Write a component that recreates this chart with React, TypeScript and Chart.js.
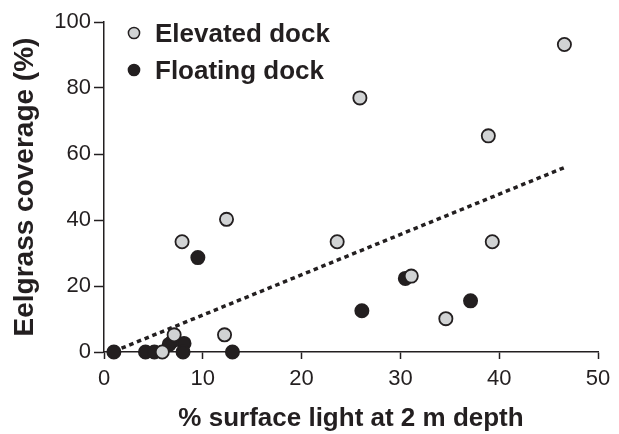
import { useEffect, useRef } from "react";
import { Chart, registerables } from "chart.js";

Chart.register(...registerables);

const INK = "#231f20";
const GRAY = "#d1d3d4";
const FONT = "'Liberation Sans', Arial, Helvetica, sans-serif";

// Elevated dock (grey points)
const elevatedX = [5.9, 7.1, 7.9, 12.2, 12.4, 23.6, 25.9, 31.1, 34.6, 38.9, 39.3, 46.6];
const elevatedY = [0, 5.2, 33.4, 5.2, 40.2, 33.4, 77.0, 23.0, 10.1, 65.5, 33.4, 93.2];

// Floating dock (black points)
const floatingX = [1.0, 4.2, 5.1, 6.6, 7.0, 8.1, 8.0, 9.5, 13.0, 26.1, 30.5, 37.1];
const floatingY = [0, 0, 0, 2.3, 3.5, 2.6, 0, 28.6, 0, 12.5, 22.3, 15.5];

// Regression (dotted) line end points
const trendX = [1.0, 46.6];
const trendY = [0.2, 55.9];

const xTicks = [0, 10, 20, 30, 40, 50];
const yTicks = [0, 20, 40, 60, 80, 100];

const legendLabels = ["Elevated dock", "Floating dock"];
const legendFills = [GRAY, INK];

const xTitle = "% surface light at 2 m depth";
const yTitle = "Eelgrass coverage (%)";

const toPoints = (xs: number[], ys: number[]) => xs.map((x, i) => ({ x, y: ys[i] }));

const legendPlugin = {
  id: "insideLegend",
  afterDraw(chart: any) {
    const { ctx, chartArea } = chart;
    ctx.save();
    legendLabels.forEach((label, i) => {
      const cx = chartArea.left + 30;
      const cy = chartArea.top + 11 + i * 37;
      ctx.beginPath();
      ctx.arc(cx, cy, 5.6, 0, Math.PI * 2);
      ctx.fillStyle = legendFills[i];
      ctx.fill();
      ctx.lineWidth = 1.5;
      ctx.strokeStyle = INK;
      ctx.stroke();
      ctx.fillStyle = INK;
      ctx.font = `bold 26px ${FONT}`;
      ctx.textAlign = "left";
      ctx.textBaseline = "middle";
      ctx.fillText(label, cx + 21, cy + 2);
    });
    ctx.restore();
  },
};

export default function App() {
  const ref = useRef<HTMLCanvasElement>(null);

  useEffect(() => {
    document.body.style.margin = "0";
    const canvas = ref.current!;
    const chart = new Chart(canvas, {
      type: "scatter",
      data: {
        datasets: [
          {
            label: legendLabels[0],
            data: toPoints(elevatedX, elevatedY),
            backgroundColor: GRAY,
            borderColor: INK,
            borderWidth: 1.8,
            pointRadius: 6.6,
            clip: false,
          } as any,
          {
            label: legendLabels[1],
            data: toPoints(floatingX, floatingY),
            backgroundColor: INK,
            borderColor: INK,
            borderWidth: 1.8,
            pointRadius: 6.6,
            clip: false,
          } as any,
          {
            type: "line",
            label: "fit",
            data: toPoints(trendX, trendY),
            borderColor: INK,
            borderWidth: 3.5,
            borderDash: [4.5, 3.8],
            borderCapStyle: "butt",
            pointRadius: 0,
            showLine: true,
            fill: false,
          } as any,
        ],
      },
      options: {
        responsive: false,
        animation: false,
        events: [],
        layout: { padding: { top: 22, right: 21, left: 0, bottom: 0 } },
        plugins: {
          legend: { display: false },
          tooltip: { enabled: false },
        },
        scales: {
          x: {
            type: "linear",
            min: 0,
            max: 50,
            afterFit: (s: any) => {
              s.height = 82;
            },
            afterBuildTicks: (s: any) => {
              s.ticks = xTicks.map((v) => ({ value: v }));
            },
            ticks: {
              color: INK,
              font: { family: FONT, size: 22 },
              padding: 7,
              maxRotation: 0,
            },
            grid: {
              drawOnChartArea: false,
              drawTicks: true,
              tickLength: 7,
              tickWidth: 1.5,
              tickColor: INK,
            },
            border: { display: true, color: INK, width: 1.5 },
            title: {
              display: true,
              text: xTitle,
              color: INK,
              font: { family: FONT, size: 26, weight: "bold" },
              padding: { top: 0, bottom: 0 },
            },
          },
          y: {
            type: "linear",
            min: 0,
            max: 100,
            afterFit: (s: any) => {
              s.width = 104;
            },
            afterBuildTicks: (s: any) => {
              s.ticks = yTicks.map((v) => ({ value: v }));
            },
            ticks: {
              color: INK,
              font: { family: FONT, size: 22 },
              padding: 3,
            },
            grid: {
              drawOnChartArea: false,
              drawTicks: true,
              tickLength: 10,
              tickWidth: 1.5,
              tickColor: INK,
            },
            border: { display: true, color: INK, width: 1.5 },
            title: {
              display: true,
              text: yTitle,
              color: INK,
              font: { family: FONT, size: 28, weight: "bold" },
              padding: { top: 8, bottom: 0 },
            },
          },
        },
      },
      plugins: [legendPlugin],
    });
    return () => chart.destroy();
  }, []);

  return (
    <div style={{ width: 619, height: 434 }}>
      <canvas ref={ref} width={619} height={434} style={{ display: "block" }} />
    </div>
  );
}
